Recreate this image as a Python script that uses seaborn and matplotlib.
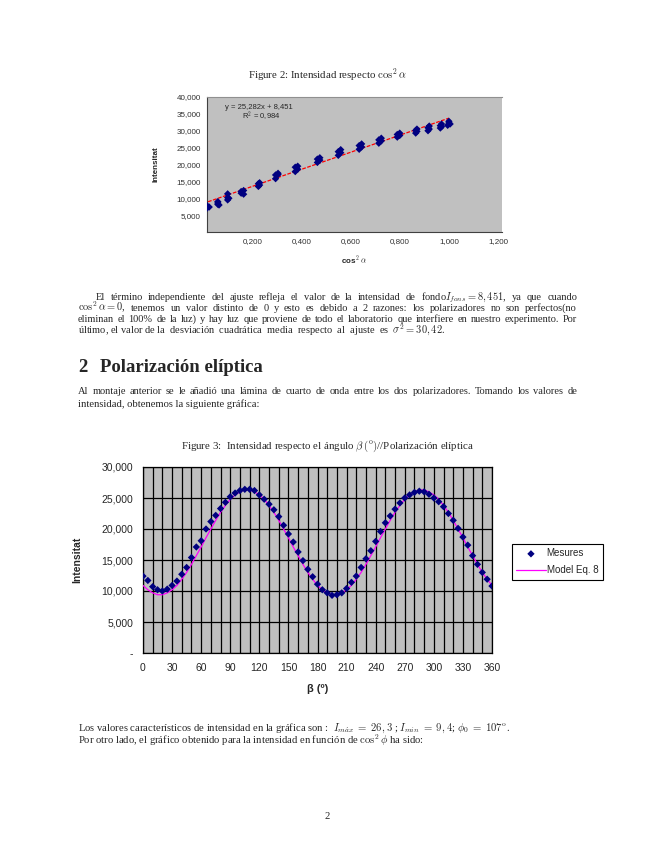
import matplotlib
matplotlib.use('Agg')
import pandas as pd
import seaborn as sns
from matplotlib import pyplot as plt

# Figure 2: intensidad respecto cos^2 alpha
cos2_alpha = [0.005, 0.005, 0.015, 0.015, 0.025,
              0.060, 0.060, 0.060, 0.065,
              0.100, 0.100, 0.100, 0.105,
              0.155, 0.155, 0.165, 0.165,
              0.225, 0.225, 0.230, 0.230,
              0.295, 0.295, 0.305, 0.305,
              0.375, 0.375, 0.385, 0.385,
              0.465, 0.465, 0.475, 0.475,
              0.550, 0.550, 0.560, 0.560,
              0.635, 0.635, 0.645, 0.645,
              0.715, 0.715, 0.725, 0.725,
              0.790, 0.790, 0.800, 0.800,
              0.865, 0.865, 0.870, 0.870,
              0.915, 0.915, 0.920, 0.920,
              0.965, 0.965, 0.970, 0.970,
              0.995, 1.000, 1.000, 1.005]
intens_alpha = [7.2, 7.6, 7.0, 7.9, 7.4,
                9.0, 8.2, 8.6, 8.0,
                9.5, 10.2, 11.3, 10.0,
                11.5, 12.0, 12.3, 11.2,
                13.5, 14.3, 14.6, 13.9,
                15.8, 16.9, 17.4, 17.0,
                17.9, 19.2, 19.5, 18.6,
                20.6, 21.6, 22.0, 21.3,
                22.7, 23.8, 24.4, 23.5,
                24.5, 25.6, 26.1, 25.2,
                26.3, 27.3, 27.8, 27.0,
                28.1, 28.9, 29.3, 28.6,
                29.3, 30.1, 30.5, 29.8,
                30.0, 30.9, 31.4, 30.5,
                30.8, 31.5, 32.0, 31.2,
                31.6, 32.3, 32.8, 32.0]
fit_slope = 25.282
fit_intercept = 8.451
fit_r2 = 0.984
fit_x = [0.0, 1.0]
xticks_fig2 = [0.2, 0.4, 0.6, 0.8, 1.0, 1.2]
yticks_fig2 = [5, 10, 15, 20, 25, 30, 35, 40]

# Figure 3: intensidad respecto beta
beta = list(range(0, 361, 5))
mesures = [12.4, 11.7, 10.7, 10.2, 10.0, 10.3, 10.9, 11.6, 12.7, 13.8,
           15.4, 17.1, 18.1, 20.0, 21.2, 22.2, 23.3, 24.3, 25.2, 25.8,
           26.2, 26.4, 26.4, 26.2, 25.5, 24.8, 24.0, 23.1, 22.0, 20.6,
           19.2, 17.9, 16.3, 14.9, 13.5, 12.3, 11.1, 10.2, 9.7, 9.3,
           9.4, 9.7, 10.4, 11.4, 12.4, 13.8, 15.2, 16.5, 18.0, 19.6,
           21.0, 22.1, 23.2, 24.2, 25.0, 25.5, 25.9, 26.1, 26.0, 25.6,
           25.0, 24.4, 23.6, 22.5, 21.4, 20.1, 18.7, 17.4, 15.7, 14.3,
           13.0, 11.9, 10.8]
model_eq8 = [10.9, 10.2, 9.7, 9.4, 9.4, 9.7, 10.2, 10.9, 11.9, 13.0,
             14.3, 15.7, 17.1, 18.6, 20.0, 21.4, 22.7, 23.8, 24.8, 25.5,
             26.0, 26.3, 26.3, 26.0, 25.5, 24.8, 23.8, 22.7, 21.4, 20.0,
             18.6, 17.1, 15.7, 14.3, 13.0, 11.9, 10.9, 10.2, 9.7, 9.4,
             9.4, 9.7, 10.2, 10.9, 11.9, 13.0, 14.3, 15.7, 17.1, 18.6,
             20.0, 21.4, 22.7, 23.8, 24.8, 25.5, 26.0, 26.3, 26.3, 26.0,
             25.5, 24.8, 23.8, 22.7, 21.4, 20.0, 18.6, 17.1, 15.7, 14.3,
             13.0, 11.9, 10.9]
xticks_fig3 = list(range(0, 361, 30))
yticks_fig3 = [0, 5, 10, 15, 20, 25, 30]

W, H = 655, 848
serif = 'Liberation Serif'
arial = 'Liberation Sans'

sns.set_style('white')
plt.rcParams['mathtext.fontset'] = 'cm'
plt.rcParams['font.family'] = ['Liberation Sans', 'DejaVu Sans']

fig = plt.figure(figsize=(W / 100, H / 100), dpi=100)
rend = fig.canvas.get_renderer()


def coma(v, nd=3):
    return f'{v:.{nd}f}'.replace('.', ',')


def texto(x, y, s, size=7.5, ha='left', x_fin=None, family=serif, **kw):
    if x_fin is None:
        return fig.text(x / W, 1 - y / H, s, fontsize=size, ha=ha, va='baseline', family=family, **kw)
    # linea justificada
    palabras = s.split()
    objs = [fig.text(0, 1 - y / H, p, fontsize=size, va='baseline', family=family, **kw) for p in palabras]
    anchos = [t.get_window_extent(rend).width for t in objs]
    hueco = (x_fin - x - sum(anchos)) / (len(objs) - 1)
    pos = x
    for t, a in zip(objs, anchos):
        t.set_x(pos / W)
        pos += a + hueco


    # GRAFICA 1
texto(327, 79, r'Figure 2: Intensidad respecto $\cos^2\alpha$', ha='center', size=7.8)

ax1 = fig.add_axes([207 / W, 1 - 232 / H, 295 / W, 135 / H])
ax1.set_facecolor('#C0C0C0')
df1 = pd.DataFrame({'cos2': cos2_alpha, 'I': intens_alpha})
sns.scatterplot(data=df1, x='cos2', y='I', marker='D', s=14, color='#000080', edgecolor='none', ax=ax1, zorder=3)
df_fit = pd.DataFrame({'x': fit_x})
df_fit['y'] = fit_slope * df_fit['x'] + fit_intercept
sns.lineplot(data=df_fit, x='x', y='y', color='red', lw=0.9, ax=ax1, zorder=2)
ax1.lines[-1].set_dashes((3, 1.2))
ax1.set_xlim(0.016, 1.216)
ax1.set_ylim(0, 40)
ax1.set_xticks(xticks_fig2)
ax1.set_xticklabels([coma(v) for v in xticks_fig2], fontsize=5.8, family=arial)
ax1.set_yticks(yticks_fig2)
ax1.set_yticklabels([coma(v) for v in yticks_fig2], fontsize=5.8, family=arial)
ax1.tick_params(direction='out', length=2.5, width=0.6, pad=2, colors='#303030')
for lado in ['left', 'bottom']:
    ax1.spines[lado].set_color('#404040')
    ax1.spines[lado].set_linewidth(0.8)
ax1.spines['top'].set_color('#909090')
ax1.spines['right'].set_visible(False)
ax1.set_xlabel(r'cos$^2$ $\alpha$', fontsize=5.8, fontweight='bold', family=arial, labelpad=6)
ax1.set_ylabel('Intensitat', fontsize=5.8, fontweight='bold', family=arial, labelpad=12)
ax1.text(0.061, 0.925, f'y = {coma(fit_slope)}x + {coma(fit_intercept)}', transform=ax1.transAxes,
         fontsize=5.5, family=arial, va='center')
ax1.text(0.12, 0.855, f'R$^2$ = {coma(fit_r2)}', transform=ax1.transAxes, fontsize=5.5, family=arial, va='center')

    # TEXTO
texto(96, 300, r'El término independiente del ajuste refleja el valor de la intensidad de fondo$I_{fons}=8,451$, ya que cuando', x_fin=577)
texto(78, 311, r'$\cos^2\alpha=0$, tenemos un valor distinto de 0 y esto es debido a 2 razones: los polarizadores no son perfectos(no', x_fin=577)
texto(78, 322, 'eliminan el 100% de la luz) y hay luz que proviene de todo el laboratorio que interfiere en nuestro experimento. Por', x_fin=577)
texto(78, 333, r'último, el valor de la  desviación  cuadrática  media  respecto  al  ajuste  es  $\sigma^2=30,42$.')

texto(78, 372, '2', size=13.5, fontweight='bold')
texto(100, 372, 'Polarización elíptica', size=13.5, fontweight='bold')

texto(78, 394, 'Al montaje anterior se le añadió una lámina de cuarto de onda entre los dos polarizadores. Tomando los valores de', x_fin=577)
texto(78, 407, 'intensidad, obtenemos la siguiente gráfica:', size=7.7)

    # GRAFICA 2
texto(327, 449, r'Figure 3:  Intensidad respecto el ángulo $\beta\,(^{\rm o})$//Polarización elíptica', ha='center', size=7.8)

ax2 = fig.add_axes([143 / W, 1 - 653 / H, 349 / W, 186 / H])
ax2.set_facecolor('#C0C0C0')
df2 = pd.DataFrame({'beta': beta, 'Mesures': mesures, 'Model': model_eq8})
sns.lineplot(data=df2, x='beta', y='Model', color='#FF00FF', lw=0.9, ax=ax2, label='Model Eq. 8', zorder=3)
sns.scatterplot(data=df2, x='beta', y='Mesures', marker='D', s=14, color='#000080', edgecolor='none',
                ax=ax2, label='Mesures', zorder=4)
ax2.set_xlim(0, 360)
ax2.set_ylim(0, 30)
ax2.set_xticks(xticks_fig3)
ax2.set_xticks(beta[::2], minor=True)
ax2.set_xticklabels([str(v) for v in xticks_fig3], fontsize=7.5, family=arial)
ax2.set_yticks(yticks_fig3)
ax2.set_yticklabels(['-' if v == 0 else coma(v) for v in yticks_fig3], fontsize=7.5, family=arial)
ax2.xaxis.grid(True, which='both', color='black', lw=0.9)
ax2.yaxis.grid(True, which='major', color='black', lw=0.9)
ax2.set_axisbelow(True)
ax2.tick_params(which='major', direction='out', length=3, width=0.8, pad=4)
ax2.tick_params(which='minor', length=0)
for lado in ax2.spines:
    ax2.spines[lado].set_color('black')
    ax2.spines[lado].set_linewidth(0.9)
ax2.set_xlabel('β (º)', fontsize=8, fontweight='bold', family=arial, labelpad=8)
ax2.set_ylabel('Intensitat', fontsize=7.5, fontweight='bold', family=arial, labelpad=14)

handles, labels = ax2.get_legend_handles_labels()
orden = [labels.index('Mesures'), labels.index('Model Eq. 8')]
leg = ax2.legend([handles[i] for i in orden], [labels[i] for i in orden], loc='upper left',
                 bbox_to_anchor=(512 / W, 1 - 544 / H), bbox_transform=fig.transFigure,
                 frameon=True, fancybox=False, edgecolor='black', framealpha=1,
                 prop={'family': arial, 'size': 7}, handlelength=3.0, handletextpad=0.1,
                 borderpad=0.45, labelspacing=0.7, borderaxespad=0)
leg.get_frame().set_linewidth(0.8)

    # TEXTO FINAL
texto(78, 731, r'Los valores característicos de intensidad en la gráfica son :  $I_{m\acute{a}x}\;=\;26,3$ ; $I_{min}\;=\;9,4$; $\phi_0\;=\;107^{\rm o}$.', size=7.7)
texto(78, 744, r'Por otro lado, el gráfico obtenido para la intensidad en función de $\cos^2\phi$ ha sido:', size=7.7)
texto(327, 819, '2', ha='center', size=7.7)

fig.savefig('out.png', dpi=100)
